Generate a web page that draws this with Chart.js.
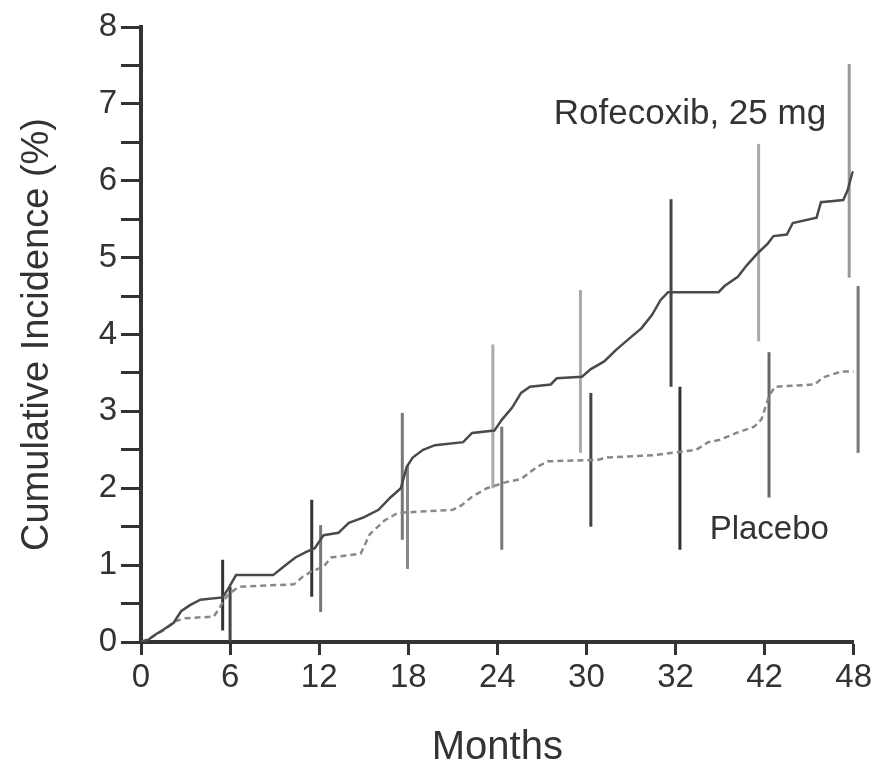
<!DOCTYPE html>
<html>
<head>
<meta charset="utf-8">
<script src="https://cdn.jsdelivr.net/npm/chart.js@4.4.1/dist/chart.umd.min.js"></script>
<style>
  body { margin: 0; background: #fff; }
  canvas { display: block; }
</style>
</head>
<body>
<canvas id="kmChart" width="875" height="764"></canvas>
<script>
// x tick positions (months) and the labels printed under them
const xTickValues = [0, 6, 12, 18, 24, 30, 36, 42, 48];
const xTickLabels = ['0', '6', '12', '18', '24', '30', '32', '42', '48'];

// cumulative incidence curves
const rofMonths = [0, 0.5, 1.0, 1.5, 2.2, 2.7, 3.3, 4.0, 5.5, 5.9, 6.4, 8.9, 9.6, 10.4, 11.1, 11.7, 12.3, 13.3, 14.0, 15.0, 16.0, 16.8, 17.5, 17.9, 18.3, 19.0, 19.8, 21.7, 22.3, 23.8, 24.3, 25.0, 25.6, 26.2, 27.6, 28.0, 29.7, 30.3, 31.2, 32.0, 32.9, 33.7, 34.4, 35.0, 35.5, 38.9, 39.3, 40.2, 40.8, 41.6, 42.2, 42.6, 43.5, 43.9, 45.5, 45.8, 47.3, 47.6, 47.9, 48];
const rofValues = [0, 0.03, 0.1, 0.16, 0.25, 0.4, 0.48, 0.55, 0.58, 0.7, 0.87, 0.87, 0.98, 1.1, 1.17, 1.22, 1.39, 1.42, 1.55, 1.62, 1.72, 1.88, 2.0, 2.28, 2.4, 2.5, 2.56, 2.6, 2.72, 2.75, 2.89, 3.05, 3.24, 3.32, 3.35, 3.43, 3.45, 3.55, 3.65, 3.8, 3.95, 4.08, 4.25, 4.45, 4.55, 4.55, 4.63, 4.75, 4.9, 5.07, 5.18, 5.28, 5.3, 5.45, 5.52, 5.72, 5.75, 5.88, 6.1, 6.12];

const plaMonths = [0, 0.6, 1.5, 2.3, 3.0, 4.9, 5.3, 5.8, 6.3, 6.7, 10.3, 10.9, 11.5, 12.3, 12.8, 14.8, 15.4, 16.4, 17.3, 21.0, 21.6, 22.3, 23.3, 24.6, 25.6, 26.0, 26.7, 27.4, 30.8, 31.4, 34.5, 35.3, 37.4, 38.2, 39.0, 40.1, 41.3, 41.8, 42.3, 42.7, 45.4, 45.9, 47.2, 48];
const plaValues = [0, 0.05, 0.15, 0.27, 0.31, 0.33, 0.45, 0.6, 0.68, 0.72, 0.75, 0.85, 0.92, 0.98, 1.1, 1.15, 1.4, 1.58, 1.68, 1.72, 1.78, 1.89, 2.0, 2.08, 2.12, 2.18, 2.28, 2.35, 2.37, 2.4, 2.43, 2.45, 2.5, 2.6, 2.63, 2.72, 2.8, 2.9, 3.2, 3.32, 3.35, 3.44, 3.52, 3.52];

// confidence bars
const rofBarMonths = [5.5, 11.5, 17.6, 23.7, 29.6, 35.7, 41.6, 47.7];
const rofBarLow = [0.15, 0.59, 1.33, 2.0, 2.46, 3.32, 3.91, 4.74];
const rofBarHigh = [1.07, 1.85, 2.98, 3.87, 4.58, 5.76, 6.48, 7.52];

const plaBarMonths = [6.0, 12.1, 17.95, 24.3, 30.3, 36.3, 42.3, 48.3];
const plaBarLow = [0, 0.39, 0.95, 1.2, 1.5, 1.2, 1.88, 2.46];
const plaBarHigh = [0.72, 1.52, 2.3, 2.8, 3.24, 3.32, 3.77, 4.63];

const rofBarColors = ['#333', '#333', '#777', '#aaa', '#aaa', '#444', '#aaa', '#999'];
const plaBarColors = ['#444', '#777', '#888', '#777', '#444', '#333', '#666', '#777'];

const textColor = '#333';
const fontFamily = '"Liberation Sans", Arial, sans-serif';

function barSets(months, low, high, colors) {
    return months.map((m, i) => ({
        data: [{ x: m, y: low[i] }, { x: m, y: high[i] }],
        borderColor: colors[i],
        borderWidth: 3,
        borderCapStyle: 'butt',
        pointRadius: 0,
        clip: false
    }));
}

const curveLabels = {
    id: 'curveLabels',
    afterDraw(chart) {
        const { ctx, scales: { x, y }, chartArea } = chart;
        ctx.save();
        ctx.fillStyle = textColor;
        ctx.textBaseline = 'alphabetic';
        ctx.textAlign = 'left';
        ctx.font = '35px ' + fontFamily;
        ctx.fillText('Rofecoxib, 25 mg', x.getPixelForValue(27.8), y.getPixelForValue(6.74));
        ctx.font = '33px ' + fontFamily;
        ctx.fillText('Placebo', x.getPixelForValue(38.3), y.getPixelForValue(1.34));

        // axis titles
        ctx.textAlign = 'center';
        ctx.textBaseline = 'middle';
        ctx.font = '40px ' + fontFamily;
        ctx.fillText('Months', (chartArea.left + chartArea.right) / 2, 748);
        ctx.translate(38, (chartArea.top + chartArea.bottom) / 2);
        ctx.rotate(-Math.PI / 2);
        ctx.font = '38px ' + fontFamily;
        ctx.fillText('Cumulative Incidence (%)', 0, 0);
        ctx.restore();
    }
};

document.addEventListener('DOMContentLoaded', function() {
    const ctx = document.getElementById('kmChart').getContext('2d');
    new Chart(ctx, {
        type: 'line',
        data: {
            datasets: [
                {
                    label: 'Rofecoxib, 25 mg',
                    data: rofMonths.map((m, i) => ({ x: m, y: rofValues[i] })),
                    borderColor: '#4a4a4a',
                    borderWidth: 2.5,
                    pointRadius: 0,
                    tension: 0
                },
                {
                    label: 'Placebo',
                    data: plaMonths.map((m, i) => ({ x: m, y: plaValues[i] })),
                    borderColor: '#888',
                    borderWidth: 2.5,
                    borderDash: [6, 4],
                    pointRadius: 0,
                    tension: 0
                },
                ...barSets(rofBarMonths, rofBarLow, rofBarHigh, rofBarColors),
                ...barSets(plaBarMonths, plaBarLow, plaBarHigh, plaBarColors)
            ]
        },
        options: {
            responsive: false,
            animation: false,
            layout: { padding: { top: 27, right: 16, left: 0, bottom: 0 } },
            plugins: {
                legend: { display: false },
                tooltip: { enabled: false }
            },
            scales: {
                x: {
                    type: 'linear',
                    min: 0,
                    max: 48,
                    afterBuildTicks: scale => {
                        scale.ticks = xTickValues.map(v => ({ value: v }));
                    },
                    afterFit: scale => { scale.height = 122; },
                    ticks: {
                        color: textColor,
                        font: { family: fontFamily, size: 33 },
                        padding: 3,
                        maxRotation: 0,
                        autoSkip: false,
                        callback: (value, index) => xTickLabels[index]
                    },
                    grid: {
                        drawOnChartArea: false,
                        tickLength: 13,
                        tickWidth: 3,
                        tickColor: '#333'
                    },
                    border: { color: '#333', width: 4 }
                },
                y: {
                    min: 0,
                    max: 8,
                    afterFit: scale => { scale.width = 141; },
                    ticks: {
                        stepSize: 0.5,
                        color: textColor,
                        font: { family: fontFamily, size: 33 },
                        padding: 4,
                        autoSkip: false,
                        callback: v => Number.isInteger(v) ? v : ''
                    },
                    grid: {
                        drawOnChartArea: false,
                        tickLength: 20,
                        tickWidth: 3,
                        tickColor: '#333'
                    },
                    border: { color: '#333', width: 4 }
                }
            }
        },
        plugins: [curveLabels]
    });
});
</script>
</body>
</html>
